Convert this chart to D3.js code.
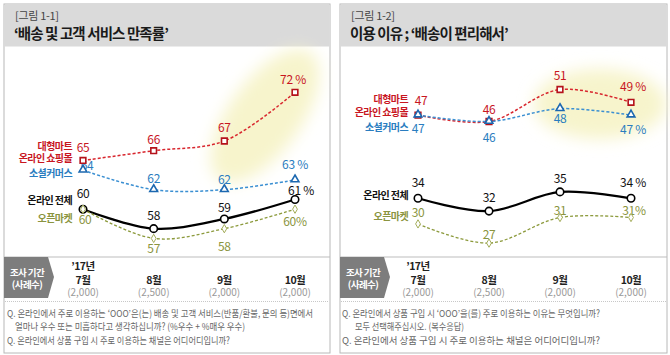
<!DOCTYPE html>
<html><head><meta charset="utf-8">
<script src="https://cdn.jsdelivr.net/npm/d3@7"></script>
<style>
body{margin:0;background:#fff}
svg{display:block;font-family:"Noto Sans CJK KR","Noto Sans",sans-serif}
</style>
</head><body><svg id="c" width="670" height="355"></svg>
<script>
// ---------- data ----------
const months = ["7월","8월","9월","10월"];
const yearLabel = "’17년";
const sampleSizes = ["(2,000)","(2,500)","(2,000)","(2,000)"];
const seriesNames = [["대형마트","온라인 쇼핑몰"],["소셜커머스"],["온라인 전체"],["오픈마켓"]];
const satMart   = [65,66,67,72];
const satSocial = [64,62,62,63];
const satTotal  = [60,58,59,61];
const satOpen   = [60,57,58,60];
const reasonMart   = [47,46,51,49];
const reasonSocial = [47,46,48,47];
const reasonTotal  = [34,32,35,34];
const reasonOpen   = [30,27,31,31];
const titleTags = ["[그림 1-1]","[그림 1-2]"];
const titles = ["‘배송 및 고객 서비스 만족률’","이용 이유 ; ‘배송이 편리해서’"];
const periodLabel = ["조사 기간","(사례수)"];
const questions1 = [
  "Q. 온라인에서 주로 이용하는 ‘OOO’은(는)  배송 및 고객 서비스(반품/환불, 문의 등)면에서",
  "얼마나 우수 또는 미흡하다고 생각하십니까?  (%우수 + %매우 우수)",
  "Q. 온라인에서 상품 구입 시 주로 이용하는 채널은 어디어디입니까?"
];
const questions2 = [
  "Q. 온라인에서 상품 구입 시 ‘OOO’을(를)  주로 이용하는 이유는 무엇입니까?",
  "모두 선택해주십시오. (복수응답)",
  "Q. 온라인에서 상품 구입 시 주로 이용하는 채널은 어디어디입니까?"
];

// ---------- styles ----------
const seriesStyle = [
  {line:"#d8262e", mark:"#b5121b", text:"#c8161f", dash:"3,2", w:1.5, shape:"square", suffix:" %"},
  {line:"#3a8fd2", mark:"#1c68b0", text:"#2a7dc0", dash:"3,2", w:1.5, shape:"triangle", suffix:" %"},
  {line:"#000000", mark:"#000000", text:"#111111", dash:null, w:2.2, shape:"circle", suffix:" %"},
  {line:"#8c9a3c", mark:"#a4ad5a", text:"#8a9440", dash:"3,2", w:1.3, shape:"diamond", suffix:"%"}
];

const panels = [
  {
    x0:4, x1:330, tag:titleTags[0], title:titles[0],
    series:[satMart,satSocial,satTotal,satOpen],
    xRange:[83,295], yDomain:[57,72], yRange:[238.4,92.3],
    ellipse:{cx:265,cy:116,rx:78,ry:36,rot:-54},
    nameX:72, nameY:[[149.5,161.5],[176.5],[204],[222]],
    labelDy:[[-14,-12,-15,-14],[-6,-12,-11,-16],[-17,-14,-12,-10],[9,9,17,11]],
    labelDx:[[0,0,0,-2],[4,0,0,0],[0,0,0,6],[2,0,0,0]],
    questions:questions1, qX:[7,15,7], qW:[306,230,223]
  },
  {
    x0:340, x1:667, tag:titleTags[1], title:titles[1],
    series:[reasonMart,reasonSocial,reasonTotal,reasonOpen],
    xRange:[418,631], yDomain:[27,51], yRange:[243.1,89.5],
    ellipse:{cx:600,cy:104,rx:66,ry:35,rot:0},
    nameX:408, nameY:[[103,115.5],[131],[199],[220]],
    labelDy:[[-16,-13,-15,-17],[12,15,9,13],[-17,-15,-14,-17],[-12,-10,-8,-8]],
    labelDx:[[3,0,0,2],[0,0,0,2],[0,0,0,2],[0,0,0,3]],
    questions:questions2, qX:[342,355,342], qW:[258,109,258]
  }
];

const svg = d3.select("#c");
const defs = svg.append("defs");
defs.append("filter").attr("id","blur").attr("x","-50%").attr("y","-50%").attr("width","200%").attr("height","200%")
  .append("feGaussianBlur").attr("stdDeviation",8);

const symbolFor = {
  square: d3.symbol().type(d3.symbolSquare).size(32),
  triangle: d3.symbol().type(d3.symbolTriangle).size(26),
  circle: d3.symbol().type(d3.symbolCircle).size(44),
  diamond: d3.symbol().type(d3.symbolDiamond).size(20)
};

panels.forEach(p => {
  const g = svg.append("g");
  // panel frame & header
  g.append("rect").attr("x",p.x0).attr("y",4).attr("width",p.x1-p.x0).attr("height",349)
    .attr("fill","#fff").attr("stroke","#b8b8b8").attr("stroke-width",1);
  g.append("rect").attr("x",p.x0+0.5).attr("y",4.5).attr("width",p.x1-p.x0-1).attr("height",42)
    .attr("fill","#dadada");
  g.append("text").attr("x",p.x0+11).attr("y",20).attr("font-size",11).attr("fill","#444")
    .attr("letter-spacing",-0.3).text(p.tag);
  g.append("text").attr("x",p.x0+10).attr("y",39).attr("font-size",14.5).attr("font-weight","bold")
    .attr("fill","#1a1a1a").attr("letter-spacing",-0.9).text(p.title);

  const x = d3.scalePoint().domain(months).range(p.xRange);
  const y = d3.scaleLinear().domain(p.yDomain).range(p.yRange);

  // highlight
  const e = p.ellipse;
  g.append("ellipse").attr("cx",0).attr("cy",0).attr("rx",e.rx).attr("ry",e.ry)
    .attr("transform",`translate(${e.cx},${e.cy}) rotate(${e.rot})`)
    .attr("fill","#f7f4cc").attr("filter","url(#blur)");

  const line = d3.line().x((d,i)=>x(months[i])).y(d=>y(d)).curve(d3.curveCatmullRom.alpha(0.5));

  // labels (drawn under markers)
  p.series.forEach((vals,si) => {
    const st = seriesStyle[si];
    g.selectAll(null).data(vals).enter().append("text")
      .attr("x",(d,i)=>x(months[i])+p.labelDx[si][i])
      .attr("y",(d,i)=>y(d)+p.labelDy[si][i])
      .attr("dominant-baseline","central").attr("text-anchor","middle")
      .attr("font-size",12).attr("fill",st.text).attr("letter-spacing",-0.3)
      .text((d,i)=> i===vals.length-1 ? d+st.suffix : d);
  });

  // lines
  p.series.forEach((vals,si) => {
    const st = seriesStyle[si];
    g.append("path").attr("d",line(vals)).attr("fill","none")
      .attr("stroke",st.line).attr("stroke-width",st.w)
      .attr("stroke-dasharray",st.dash);
  });
  // markers
  p.series.forEach((vals,si) => {
    const st = seriesStyle[si];
    g.selectAll(null).data(vals).enter().append("path")
      .attr("d",symbolFor[st.shape])
      .attr("transform",(d,i)=>`translate(${x(months[i])},${y(d)+(st.shape==="triangle"?-0.5:0)})`)
      .attr("fill","#fff").attr("stroke",st.mark)
      .attr("stroke-width",st.shape==="diamond"?1:1.6);
  });

  // series names
  seriesNames.forEach((lines,si) => {
    lines.forEach((t,li) => {
      g.append("text").attr("x",p.nameX).attr("y",p.nameY[si][li])
        .attr("text-anchor","end").attr("font-size",10).attr("font-weight","bold")
        .attr("letter-spacing",-0.6).attr("fill",seriesStyle[si].text).text(t);
    });
  });

  // footer
  g.append("line").attr("x1",p.x0).attr("x2",p.x1).attr("y1",257).attr("y2",257)
    .attr("stroke","#bdbdbd");
  const bx = p.x0;
  g.append("path").attr("d",`M${bx},257 L${bx+44},257 L${bx+50},277 L${bx+44},298 L${bx},298 Z`)
    .attr("fill","#7d7d7d");
  periodLabel.forEach((t,i)=>{
    g.append("text").attr("x",bx+23).attr("y",276+i*12).attr("text-anchor","middle")
      .attr("font-size",9.5).attr("font-weight","bold")
      .attr("letter-spacing",-0.6).attr("fill","#fff").text(t);
  });
  g.append("text").attr("x",x(months[0])).attr("y",265).attr("text-anchor","middle")
    .attr("dominant-baseline","central").attr("font-size",10.5).attr("font-weight","bold")
    .attr("fill","#222").attr("letter-spacing",-0.5).text(yearLabel);
  months.forEach((m,i)=>{
    g.append("text").attr("x",x(m)).attr("y",279).attr("text-anchor","middle")
      .attr("dominant-baseline","central").attr("font-size",10.5).attr("font-weight","bold")
      .attr("fill","#222").attr("letter-spacing",-0.5).text(m);
    g.append("text").attr("x",x(m)).attr("y",291.5).attr("text-anchor","middle")
      .attr("dominant-baseline","central").attr("font-size",10)
      .attr("fill","#9a9a9a").text(sampleSizes[i]);
  });
  g.append("line").attr("x1",p.x0+1).attr("x2",p.x1-1).attr("y1",301.5).attr("y2",301.5)
    .attr("stroke","#c8c8c8").attr("stroke-dasharray","1,1");
  p.questions.forEach((q,i)=>{
    g.append("text").attr("x",p.qX[i]).attr("y",313+i*13.3).attr("dominant-baseline","central")
      .attr("font-size",9.5).attr("fill","#666")
      .attr("textLength",p.qW[i]).attr("lengthAdjust","spacingAndGlyphs").text(q);
  });
});
</script>
</body></html>
